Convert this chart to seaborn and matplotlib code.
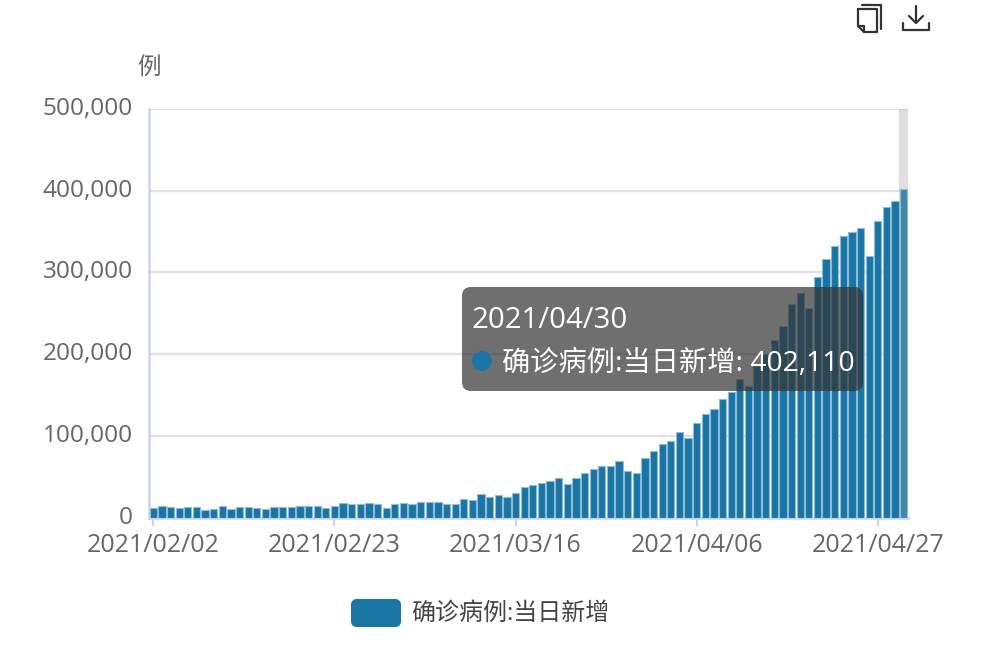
import numpy as np
import pandas as pd
import matplotlib
matplotlib.use("Agg")
import matplotlib.pyplot as plt
from matplotlib.patches import FancyBboxPatch, Rectangle, Circle
from matplotlib.transforms import ScaledTranslation
import seaborn as sns

dates = pd.date_range("2021-02-02", "2021-04-30").strftime("%Y/%m/%d").tolist()
new_cases = [
    11400, 13500, 12700, 11800, 12300, 12300, 9400, 11000, 13500, 9800,
    12700, 12700, 11800, 9800, 12300, 12700, 13000, 14500, 14500, 14500,
    11400, 13900, 17500, 17000, 16500, 17800, 16000, 12000, 16000, 18000,
    17000, 18500, 19000, 19000, 16000, 17000, 23000, 22000, 28500, 25700,
    27000, 25000, 29400, 36800, 40000, 41700, 44500, 47800, 41300, 47800,
    54300, 59600, 62900, 62900, 69000, 56800, 54000, 72700, 82000, 90000,
    93500, 104600, 97200, 116000, 127000, 132800, 145000, 153000, 170000, 160500,
    186000, 199700, 217000, 234000, 261000, 275000, 257000, 294000, 316000, 332500,
    345000, 349000, 354500, 319500, 363000, 379500, 387000, 402110,
]
series_name = "确诊病例:当日新增"
y_ticks = [0, 100000, 200000, 300000, 400000, 500000]
highlight_date = "2021/04/30"

W, H = 998, 654
BAR = "#1b75a4"
TXT = "#666666"
sns.set_theme(style="white")
plt.rcParams["font.family"] = ["Open Sans", "Noto Sans CJK SC", "DejaVu Sans"]

fig = plt.figure(figsize=(W / 100, H / 100), dpi=100, facecolor="white")
L, R, T, B = 149, 908, 109, 517.5
ax = fig.add_axes([L / W, 1 - B / H, (R - L) / W, (B - T) / H])

df = pd.DataFrame({"date": dates, "value": new_cases})
sns.barplot(data=df, x="date", y="value", color=BAR, saturation=1, width=0.84,
            edgecolor="#8dbcd6", linewidth=0.8, ax=ax, zorder=3)

ax.set_xlim(-0.5, len(dates) - 0.5)
ax.set_ylim(0, 500000)
ax.set_xlabel("")
ax.set_ylabel("")
ax.set_yticks(y_ticks)
ax.set_yticklabels([f"{v:,}" for v in y_ticks])
idx = list(range(0, len(dates), 21))
ax.set_xticks(idx)
ax.set_xticklabels([dates[i] for i in idx])
ax.grid(axis="y", color="#e2e2e6", linewidth=1.6, zorder=0)
ax.set_axisbelow(True)
ax.tick_params(axis="x", length=6, width=1.5, color="#c9d4ea", pad=5,
               labelsize=18, labelcolor=TXT, bottom=True)
ax.tick_params(axis="y", length=6, width=1.5, color="#c9d4ea", pad=5.4,
               labelsize=17.6, labelcolor=TXT, left=False)
off = ScaledTranslation(0, 3 / 72 * 0.72, fig.dpi_scale_trans)
for lb in ax.get_yticklabels():
    lb.set_transform(lb.get_transform() + off)
for s in ["top", "right"]:
    ax.spines[s].set_visible(False)
for s in ["left", "bottom"]:
    ax.spines[s].set_color("#c9d4ea")
    ax.spines[s].set_linewidth(1.8)

# axis-pointer shadow behind the hovered category, whose bar is lit up
hi = dates.index(highlight_date)
ax.axvspan(hi - 0.5, hi + 0.5, color="#969696", alpha=0.3, lw=0, zorder=1)
ax.containers[0][hi].set_facecolor("#4288ad")

# overlay in pixel coordinates for tooltip, legend, unit and toolbox
ov = fig.add_axes([0, 0, 1, 1], zorder=10)
ov.set_xlim(0, W)
ov.set_ylim(H, 0)
ov.axis("off")
ov.patch.set_alpha(0)

ov.text(137, 69, "例", fontsize=17, color=TXT, va="center", ha="left")

# tooltip
ov.add_patch(FancyBboxPatch((468, 293), 389, 92, boxstyle="round,pad=6,rounding_size=9",
                            fc=(0.196, 0.196, 0.196, 0.7), ec="none"))
ov.text(472, 320, highlight_date, fontsize=21.2, color="white", va="center", ha="left")
ov.add_patch(Circle((482, 361), 10, fc=BAR, ec="none"))
ov.text(502, 364, f"{series_name}: {new_cases[hi]:,}", fontsize=20.3, color="white",
        va="center", ha="left")

# legend
ov.add_patch(FancyBboxPatch((356, 604), 40, 18, boxstyle="round,pad=5,rounding_size=6",
                            fc=BAR, ec="none"))
ov.text(411, 614, series_name, fontsize=17.3, color="#444444", va="center", ha="left")

# toolbox icons
ic = dict(color="#333333", lw=1.6, solid_capstyle="round", solid_joinstyle="round")
ov.plot([858, 877, 877, 864, 858, 858], [9, 9, 32, 32, 26, 9], **ic)
ov.plot([858, 864, 864], [26, 26, 32], **ic)
ov.plot([862, 881, 881], [5, 5, 29], **ic)
ov.plot([916, 916], [6, 22], **ic)
ov.plot([909, 916, 923], [16, 23, 16], **ic)
ov.plot([903, 903, 929, 929], [23, 30, 30, 23], **ic)

fig.savefig("out.png", dpi=100)
